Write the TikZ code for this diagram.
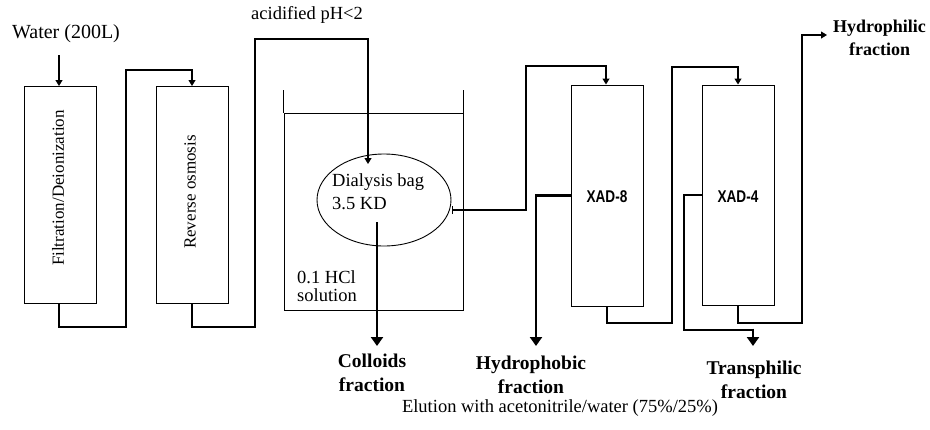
\documentclass[tikz,border=0pt]{standalone}
\usepackage{fontspec}
\usepackage{graphicx}
\setmainfont{Liberation Serif}
\newfontfamily\xadfont{Liberation Sans}
\usetikzlibrary{arrows.meta,shapes.geometric}
\tikzset{
  box/.style={draw, line width=1pt, minimum width=72pt, minimum height=217pt, inner sep=0pt},
  thin/.style={line width=1.1pt, -{Triangle[width=7pt,length=6pt]}},
  thick/.style={line width=2.8pt, -{Triangle[width=12pt,length=9pt]}},
  lbl/.style={font=\fontsize{18.5}{22}\selectfont, inner sep=0pt},
  rlbl/.style={font=\fontsize{17}{22}\selectfont, inner sep=0pt, rotate=90},
  blbl/.style={font=\fontsize{19.5}{24}\selectfont\bfseries, inner sep=0pt, align=center},
  xad/.style={font=\fontsize{17}{20}\selectfont\xadfont\bfseries, inner sep=0pt}
}
\begin{document}
\begin{tikzpicture}[x=1pt,y=-1pt]
\useasboundingbox[fill=white] (0,0) rectangle (930,429);
% boxes
\node[box] (f) at (60,195) {};
\node[rlbl] (ft) at (58,188) {Filtration/Deionization};
\node[box] (ro) at (192,195) {};
\node[rlbl] (rt) at (190,192) {Reverse osmosis};
\node[box, minimum height=221pt] (x8) at (607,195.5) {};
\node[xad] (x8t) at (607,197) {\scalebox{0.8}[1]{XAD-8}};
\node[box, minimum height=220pt] (x4) at (738,195) {};
\node[xad] (x4t) at (738,197) {\scalebox{0.8}[1]{XAD-4}};
% beaker
\node[draw, line width=1pt, minimum width=179pt, minimum height=197pt, inner sep=0pt] (bk) at (373.5,211.5) {};
\draw[line width=1pt] (bk.north west) -- ++(0,-23);
\draw[line width=1pt] (bk.north east) -- ++(0,-23);
\node[draw, ellipse, line width=0.9pt, minimum width=134pt, minimum height=92pt, inner sep=0pt] (bag) at (384,200) {};
\node[lbl, anchor=west] (bagt1) at (332,182) {Dialysis bag};
\node[lbl, anchor=west] (bagt2) at (332,204) {3.5 KD};
\node[lbl, anchor=west] (hcl1) at (297,277) {0.1 HCl};
\node[lbl, anchor=west] (hcl2) at (297,295) {solution};
% labels
\node[lbl, font=\fontsize{20}{22}\selectfont] (water) at (66,34) {Water (200L)};
\node[lbl] (acid) at (307,15) {acidified pH<2};
\node[blbl] (col) at (372,373) {Colloids\\fraction};
\node[blbl] (hpho) at (531,375) {Hydrophobic\\fraction};
\node[blbl] (trans) at (754,380) {Transphilic\\fraction};
\node[blbl, anchor=west, font=\fontsize{18}{23}\selectfont\bfseries] (hphi) at (833,38) {Hydrophilic\\fraction};
\node[lbl] (elu) at (560,408) {Elution with acetonitrile/water (75\%/25\%)};
% connectors
\coordinate (win) at (59,55);
\draw[thin] (win) -- (f.north -| win);
\draw[thin] (f.south -| win) -- (59,327) -| (126,70) -| (ro.north);
\coordinate (bagin) at (368,164);
\draw[thin] (ro.south) -- (192,327) -| (255,39) -| (bagin);
\coordinate (bagout) at (377,222);
\draw[thick] (bagout) -- (377,346);
\coordinate (tick) at (452,210);
\draw[line width=1.1pt, {Bar[width=8pt]}-{Triangle[width=7pt,length=6pt]}] (tick) -- (526,210) |- (606,66) -- (x8.north -| 606,0);
\draw[thick] (x8.west) -| (536,346);
\draw[thin] (x8.south) -- (607,323) -| (672,67) -| (x4.north);
\draw[line width=2.8pt] (x4.west) -| (684,330) -- (753,330);
\draw[thick] (753,328.6) -- (753,346);
\coordinate (hin) at (827,35);
\draw[thin] (x4.south) -- (738,323) -| (802,35) -- (hin);
\end{tikzpicture}
\end{document}
